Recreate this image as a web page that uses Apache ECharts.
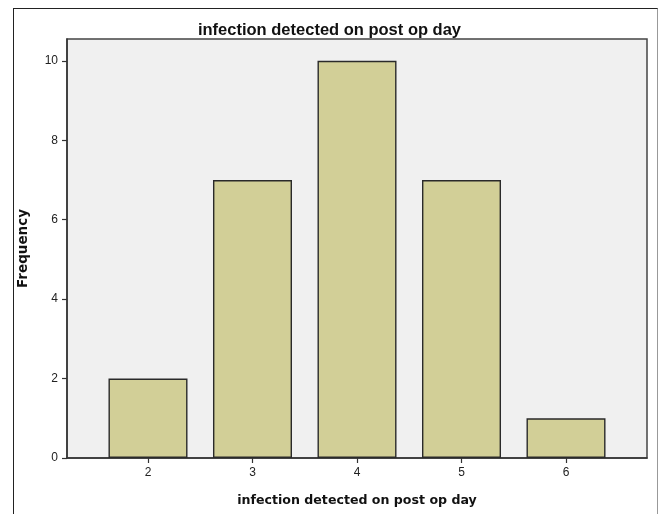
<!DOCTYPE html>
<html>
<head>
<meta charset="utf-8">
<script src="https://cdn.jsdelivr.net/npm/echarts@6/dist/echarts.min.js"></script>
<style>
  html, body { margin: 0; padding: 0; background: #ffffff; }
  #frame { position: absolute; left: 13px; top: 8px; width: 643px; height: 520px;
           border-top: 1.5px solid #222; border-left: 1.5px solid #222; border-right: 1.5px solid #999; }
  #chart { position: absolute; left: 0; top: 0; width: 659px; height: 514px; }
</style>
</head>
<body>
<div id="frame"></div>
<div id="chart"></div>
<script>
const categories = [2, 3, 4, 5, 6];
const frequencies = [2, 7, 10, 7, 1];
const yTicks = [0, 2, 4, 6, 8, 10];
const xTicks = [2, 3, 4, 5, 6];

const chart = echarts.init(document.getElementById('chart'), null, { renderer: 'canvas' });
chart.setOption({
  backgroundColor: 'transparent',
  animation: false,
  title: {
    text: 'infection detected on post op day',
    left: 'center',
    top: 17,
    textStyle: { fontFamily: 'Liberation Sans', fontSize: 16.5, fontWeight: 'bold', color: '#111' }
  },
  grid: {
    left: 67, right: 12, top: 39, bottom: 56,
    show: true, backgroundColor: '#f0f0f0', borderColor: '#444', borderWidth: 1.5
  },
  xAxis: {
    type: 'value',
    min: 1.225, max: 6.775,
    name: 'infection detected on post op day',
    nameLocation: 'middle',
    nameGap: 36,
    nameTextStyle: { fontFamily: 'DejaVu Sans', fontSize: 12.6, fontWeight: 'bold', color: '#111' },
    axisLine: { show: true, lineStyle: { color: '#333', width: 1.5 } },
    axisTick: { show: true, customValues: xTicks, length: 5, inside: false, lineStyle: { color: '#333', width: 1.2 } },
    axisLabel: { customValues: xTicks, fontFamily: 'Liberation Sans', fontSize: 12, color: '#222', margin: 9 },
    splitLine: { show: false }
  },
  yAxis: {
    type: 'value',
    min: 0, max: 10.55,
    name: 'Frequency',
    nameLocation: 'middle',
    nameRotate: 90,
    nameGap: 37,
    nameTextStyle: { fontFamily: 'DejaVu Sans', fontSize: 13.5, fontWeight: 'bold', color: '#111' },
    axisLine: { show: true, lineStyle: { color: '#333', width: 1.5 } },
    axisTick: { show: true, customValues: yTicks, length: 5, lineStyle: { color: '#333', width: 1.2 } },
    axisLabel: { customValues: yTicks, fontFamily: 'Liberation Sans', fontSize: 12, color: '#222', margin: 9 },
    splitLine: { show: false }
  },
  series: [{
    type: 'bar',
    data: categories.map((c, i) => [c, frequencies[i]]),
    barWidth: 79,
    itemStyle: { color: '#d2cf97', borderColor: '#2a2a2a', borderWidth: 1.4 }
  }]
});
</script>
</body>
</html>
